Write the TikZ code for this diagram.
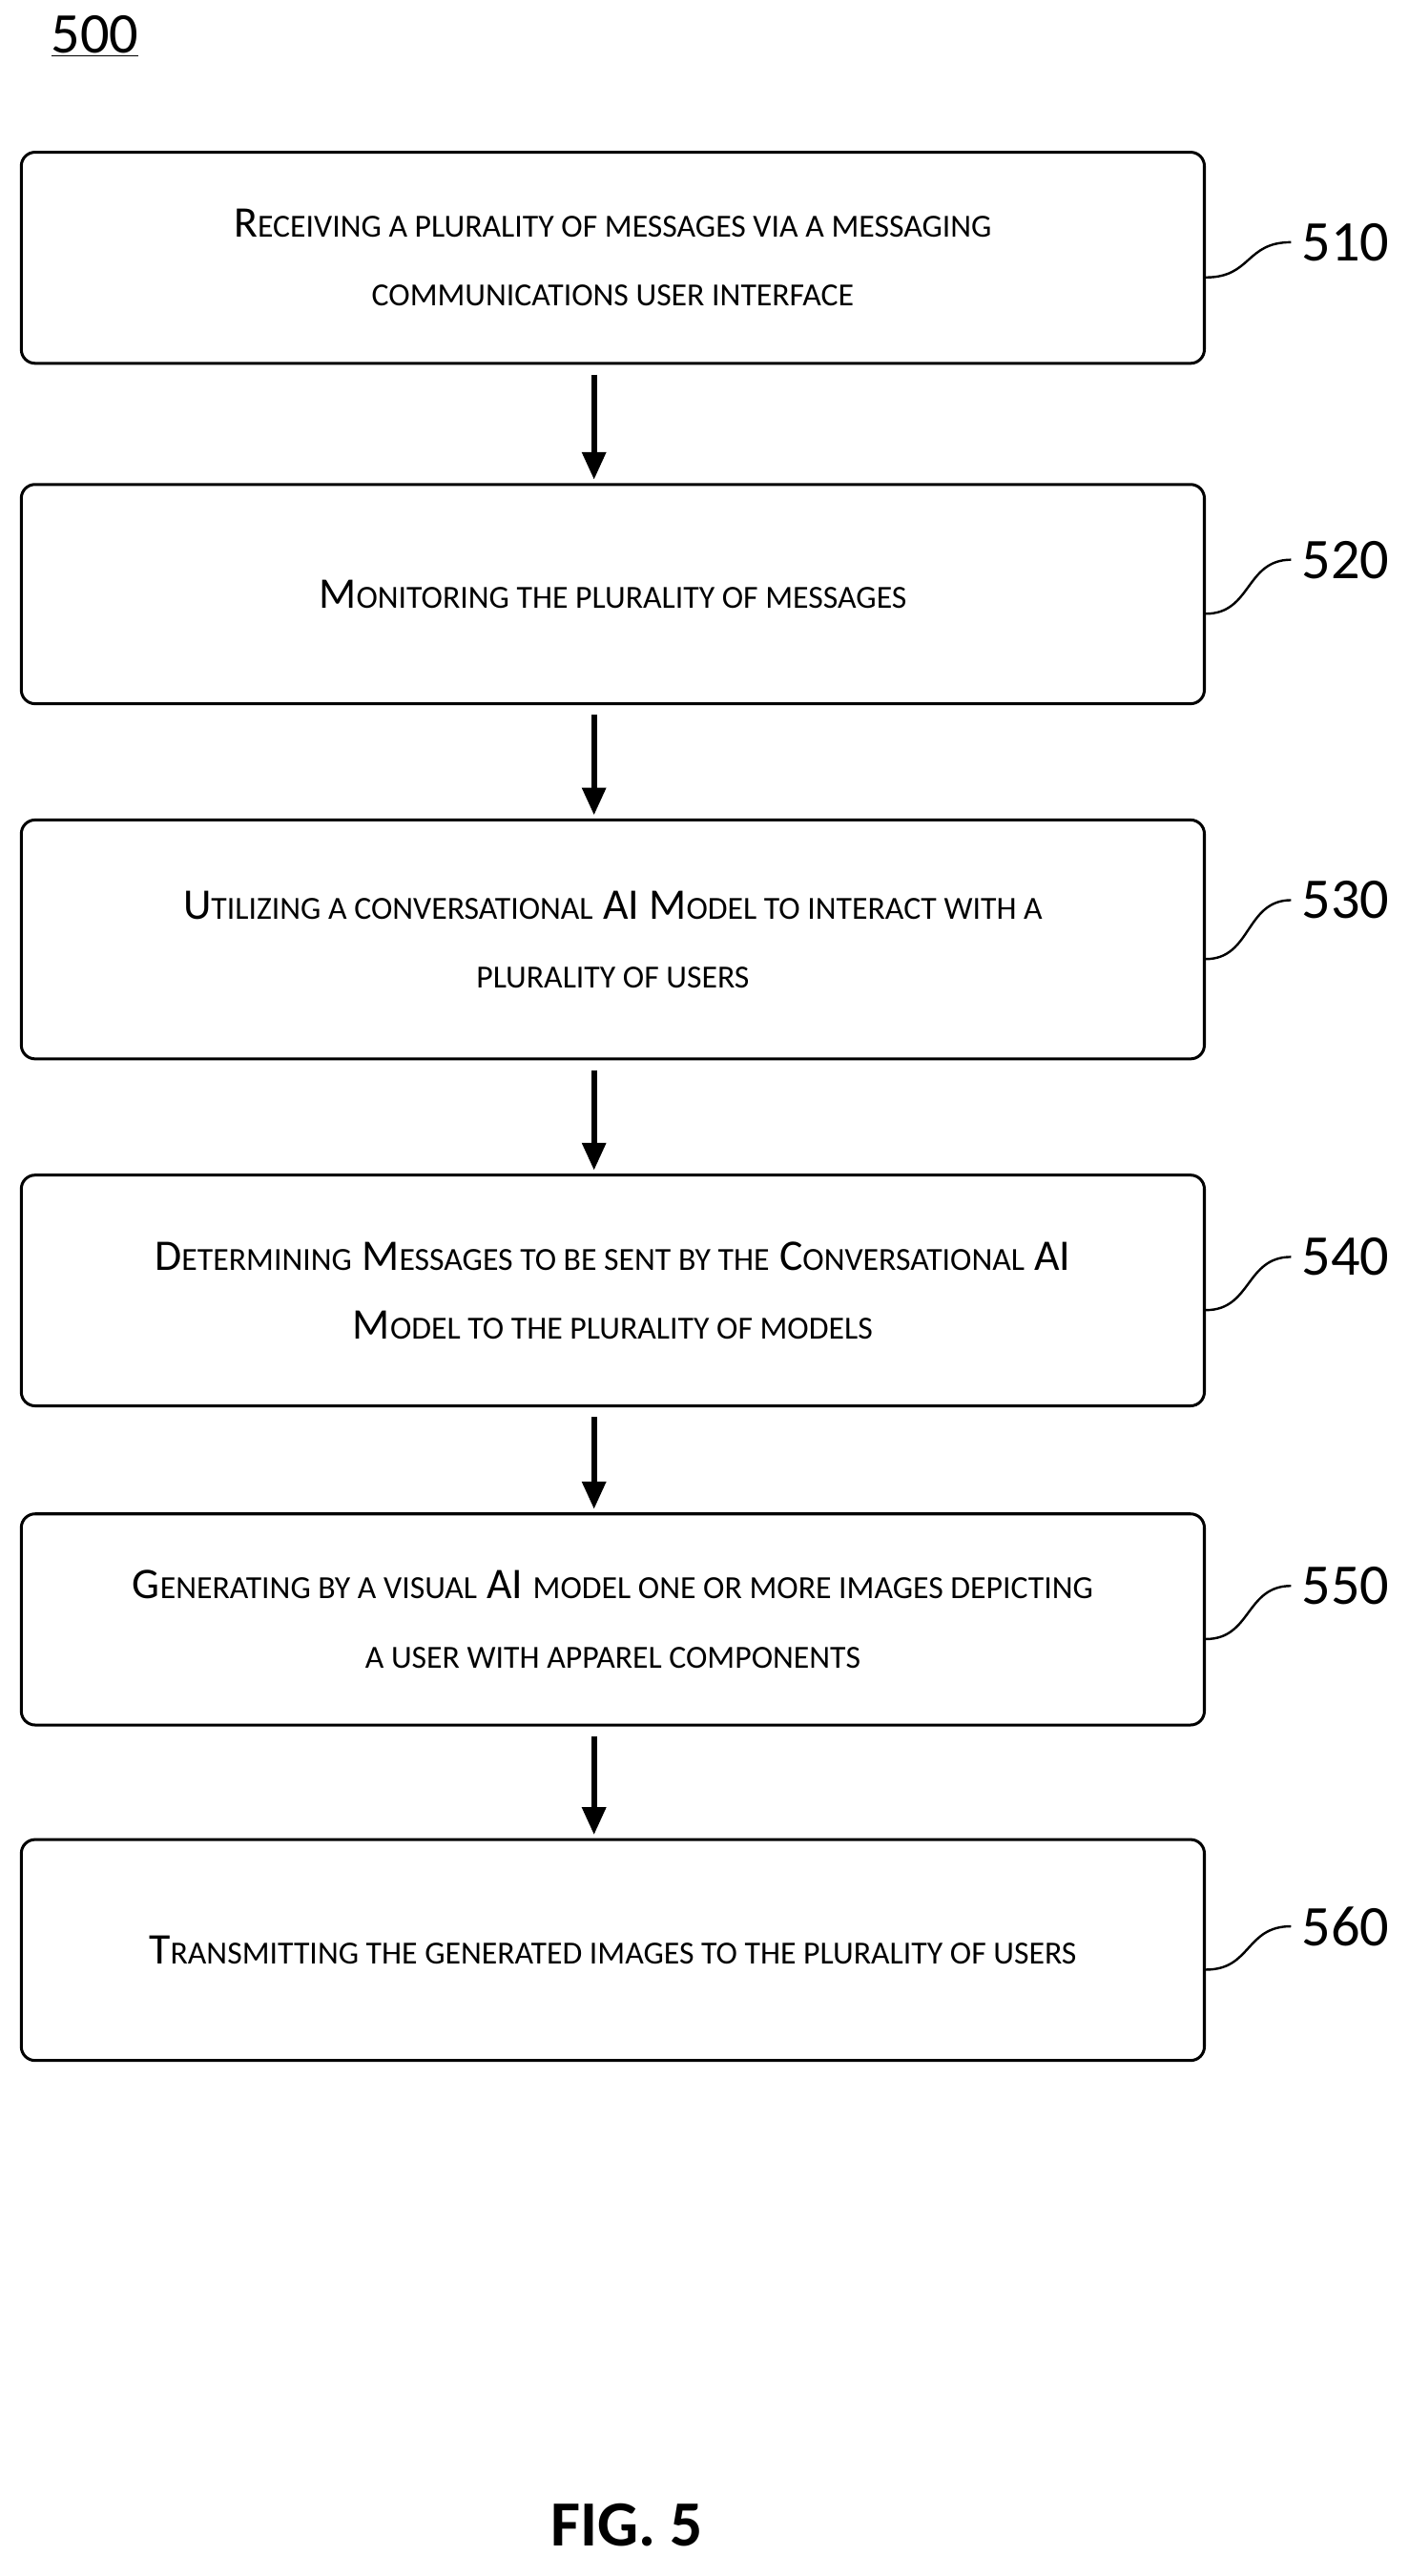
\documentclass[tikz,border=0pt]{standalone}
\usepackage{fontspec}
\setmainfont{Carlito}
\usetikzlibrary{positioning,arrows.meta,calc}
\newcommand\sml[1]{{\fontsize{28}{60}\selectfont\MakeUppercase{#1}}}
\tikzset{
  stepbox/.style={draw, line width=2.5pt, rounded corners=12pt, minimum width=36.15cm, align=center, font=\fontsize{38}{60}\selectfont},
  flow/.style={-{Triangle[length=24pt,width=20pt]}, line width=5pt},
  ref/.style={font=\fontsize{50}{60}\selectfont, anchor=west}
}
\begin{document}
\begin{tikzpicture}[x=0.05cm, y=-0.05cm]
  \useasboundingbox (0,0) rectangle (861,1574);
  \node[font=\fontsize{50}{60}\selectfont] (title) at (58,22) {\underline{500}};
%
  \node[stepbox, minimum height=6.45cm] (s510) at (374.5,157.5) {R\sml{eceiving a plurality of messages via a messaging}\\\sml{communications user interface}};
  \node[stepbox, minimum height=6.7cm] (s520) at (374.5,363) {M\sml{onitoring the plurality of messages}};
  \node[stepbox, minimum height=7.3cm] (s530) at (374.5,574) {U\sml{tilizing a conversational} AI M\sml{odel to interact with a}\\\sml{plurality of users}};
  \node[stepbox, minimum height=7.05cm] (s540) at (374.5,788.5) {D\sml{etermining} M\sml{essages to be sent by the} C\sml{onversational} AI\\M\sml{odel to the plurality of models}};
  \node[stepbox, minimum height=6.45cm] (s550) at (374.5,989.5) {G\sml{enerating by a visual} AI \sml{model one or more images depicting}\\\sml{a user with apparel components}};
  \node[stepbox, minimum height=6.75cm] (s560) at (374.5,1191.5) {T\sml{ransmitting the generated images to the plurality of users}};
%
  \foreach \a/\b in {s510/s520, s520/s530, s530/s540, s540/s550, s550/s560}
    \draw[flow] ($(\a.south)+(-11.5,6)$) -- ($(\b.north)+(-11.5,-2)$);
%
  \foreach \s/\y in {510/148, 520/342, 530/550, 540/768, 550/969, 560/1177} {
    \node[ref] (l\s) at (793,\y) {\s};
    \draw[line width=2pt] ($(s\s.east)+(0,12)$) .. controls +(28,0) and +(-28,0) .. ($(l\s.west)+(-4,0)$);
  }
%
  \node[font=\bfseries\fontsize{56}{60}\selectfont] (fig) at (383,1543) {FIG. 5};
\end{tikzpicture}
\end{document}
